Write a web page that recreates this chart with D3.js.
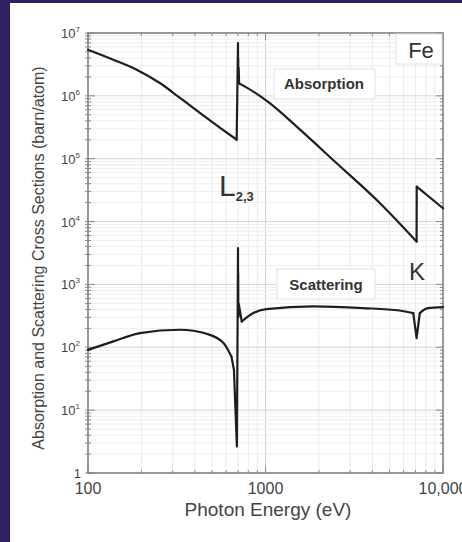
<!DOCTYPE html>
<html>
<head>
<meta charset="utf-8">
<script src="https://cdn.jsdelivr.net/npm/d3@7"></script>
<style>
  html, body { margin: 0; padding: 0; background: #fff; }
  svg { display: block; }
</style>
</head>
<body>
<div id="chart"></div>
<script>
// photon energy (eV) and cross sections (barn/atom)
var absorptionE = [100, 139, 188, 254, 330, 466, 555, 688, 700, 701, 702, 703, 706, 710, 718, 854, 1061, 1499, 2518, 4416, 7100, 7112, 10000];
var absorptionV = [5.43e6, 3.76e6, 2.61e6, 1.60e6, 9.27e5, 4.45e5, 3.1e5, 2.01e5, 6.9e6, 2.3e6, 4.0e6, 1.8e6, 2.8e6, 1.6e6, 1.55e6, 1.17e6, 7.6e5, 3.24e5, 8.47e4, 1.96e4, 4.81e3, 3.6e4, 1.63e4];

var scatteringE = [100, 139, 196, 330, 466, 580, 643, 664, 690, 700, 701, 702, 703, 706, 735, 854, 1010, 1866, 3541, 5700, 6800, 7100, 7400, 8200, 10000];
var scatteringV = [91, 124, 168, 190, 164, 117, 71, 44, 2.65, 3800, 600, 1500, 300, 500, 257, 350, 405, 446, 420, 385, 350, 140, 350, 420, 435];

var xTicks = [100, 1000, 10000];
var xTickLabels = ["100", "1000", "10,000"];
var yTickExp = [0, 1, 2, 3, 4, 5, 6, 7];

function init() {
    var w = 462, h = 542;
    var pLeft = 88, pRight = 443, pTop = 33, pBottom = 473;
    var font = "'Liberation Sans', Arial, sans-serif";

    var svg = d3.select("#chart").append("svg")
                .attr("width", w)
                .attr("height", h);

    svg.append("rect").attr("width", w).attr("height", h).attr("fill", "#fff");
    // purple frame of the slide
    svg.append("rect").attr("x", 0).attr("y", 0).attr("width", w).attr("height", 3).attr("fill", "#2f1f63");
    svg.append("rect").attr("x", 0).attr("y", 0).attr("width", 10).attr("height", h).attr("fill", "#2f1f63");

    var x = d3.scaleLog().domain([100, 10000]).range([pLeft, pRight]);
    var y = d3.scaleLog().domain([1, 1e7]).range([pBottom, pTop]);

    // minor values
    var xMinor = [];
    [100, 1000].forEach(function(d) { for (var k = 1; k < 10; k++) xMinor.push(k * d); });
    xMinor.push(10000);
    var yMinor = [];
    for (var e = 0; e < 7; e++) { for (var k = 1; k < 10; k++) yMinor.push(k * Math.pow(10, e)); }
    yMinor.push(1e7);
    function isMajorY(d) { return Math.abs(Math.log10(d) - Math.round(Math.log10(d))) < 1e-9; }

    var grid = svg.append("g");
    grid.selectAll(".gx").data(xMinor).enter().append("line")
        .attr("x1", function(d) { return x(d); }).attr("x2", function(d) { return x(d); })
        .attr("y1", pTop).attr("y2", pBottom)
        .attr("stroke", function(d) { return xTicks.indexOf(d) >= 0 ? "#cfcfcf" : "#ebebeb"; })
        .attr("stroke-width", 1);
    grid.selectAll(".gy").data(yMinor).enter().append("line")
        .attr("y1", function(d) { return y(d); }).attr("y2", function(d) { return y(d); })
        .attr("x1", pLeft).attr("x2", pRight)
        .attr("stroke", function(d) { return isMajorY(d) ? "#d6d6d6" : "#ededed"; })
        .attr("stroke-width", 1);

    // ticks on all four sides, pointing inward
    var ticks = svg.append("g").attr("stroke", "#8a8a8a").attr("stroke-width", 1);
    xMinor.forEach(function(d) {
        var len = xTicks.indexOf(d) >= 0 ? 7 : 3;
        ticks.append("line").attr("x1", x(d)).attr("x2", x(d)).attr("y1", pBottom).attr("y2", pBottom - len);
        ticks.append("line").attr("x1", x(d)).attr("x2", x(d)).attr("y1", pTop).attr("y2", pTop + len);
    });
    yMinor.forEach(function(d) {
        var len = isMajorY(d) ? 7 : 3;
        ticks.append("line").attr("y1", y(d)).attr("y2", y(d)).attr("x1", pLeft - 3).attr("x2", pLeft + len);
        ticks.append("line").attr("y1", y(d)).attr("y2", y(d)).attr("x1", pRight).attr("x2", pRight - len);
    });

    svg.append("rect")
       .attr("x", pLeft).attr("y", pTop)
       .attr("width", pRight - pLeft).attr("height", pBottom - pTop)
       .attr("fill", "none").attr("stroke", "#808080").attr("stroke-width", 1.5);

    // label boxes
    function box(x0, y0, bw, bh) {
        svg.append("rect").attr("x", x0).attr("y", y0).attr("width", bw).attr("height", bh)
           .attr("fill", "#fff").attr("stroke", "#e2e2e2").attr("stroke-width", 1);
    }
    box(274, 69, 101, 30);
    box(277, 269, 98, 30);
    box(396, 34, 46, 30);

    // curves: smooth between edges, straight across the edges
    var smooth = d3.line()
                   .curve(d3.curveMonotoneX)
                   .x(function(d) { return x(d[0]); })
                   .y(function(d) { return y(d[1]); });
    var straight = d3.line()
                     .x(function(d) { return x(d[0]); })
                     .y(function(d) { return y(d[1]); });

    function drawCurve(es, vs) {
        var pts = es.map(function(e, i) { return [e, vs[i]]; });
        var runs = [];
        for (var i = 0; i < pts.length - 1; i++) {
            var edge = pts[i + 1][0] / pts[i][0] < 1.05;
            var last = runs[runs.length - 1];
            if (last && last.edge === edge) last.pts.push(pts[i + 1]);
            else runs.push({ edge: edge, pts: [pts[i], pts[i + 1]] });
        }
        runs.forEach(function(r) {
            svg.append("path")
               .datum(r.pts)
               .attr("d", r.edge ? straight : smooth)
               .attr("fill", "none").attr("stroke", "#1e1e1e").attr("stroke-width", 2.2)
               .attr("stroke-linejoin", "round").attr("stroke-linecap", "round");
        });
    }
    drawCurve(absorptionE, absorptionV);
    drawCurve(scatteringE, scatteringV);

    // x tick labels
    svg.selectAll(".xl").data(xTicks).enter().append("text")
       .attr("x", function(d) { return x(d); })
       .attr("y", 494)
       .attr("text-anchor", "middle")
       .attr("font-family", font).attr("font-size", 16)
       .attr("fill", "#444")
       .text(function(d, i) { return xTickLabels[i]; });

    // y tick labels
    var yl = svg.selectAll(".yl").data(yTickExp).enter().append("text")
       .attr("x", function(d) { return d === 0 ? 81 : 61; })
       .attr("y", function(d) { return y(Math.pow(10, d)) + 5; })
       .attr("text-anchor", function(d) { return d === 0 ? "end" : "start"; })
       .attr("font-family", font).attr("font-size", 13)
       .attr("fill", "#444");
    yl.append("tspan").text(function(d) { return d === 0 ? "1" : "10"; });
    yl.filter(function(d) { return d > 0; })
      .append("tspan").attr("dy", -6).attr("font-size", 8).text(function(d) { return d; });

    // axis titles
    svg.append("text")
       .attr("x", 268).attr("y", 516)
       .attr("text-anchor", "middle")
       .attr("font-family", font).attr("font-size", 19)
       .attr("fill", "#444")
       .text("Photon Energy (eV)");

    svg.append("text")
       .attr("transform", "translate(44,258) rotate(-90)")
       .attr("text-anchor", "middle")
       .attr("font-family", font).attr("font-size", 16)
       .attr("fill", "#444")
       .text("Absorption and Scattering Cross Sections (barn/atom)");

    // annotations
    svg.append("text").attr("x", 324).attr("y", 89).attr("text-anchor", "middle")
       .attr("font-family", font).attr("font-size", 15).attr("font-weight", "bold").attr("fill", "#333")
       .text("Absorption");
    svg.append("text").attr("x", 326).attr("y", 290).attr("text-anchor", "middle")
       .attr("font-family", font).attr("font-size", 15).attr("font-weight", "bold").attr("fill", "#333")
       .text("Scattering");
    svg.append("text").attr("x", 421).attr("y", 58).attr("text-anchor", "middle")
       .attr("font-family", font).attr("font-size", 22).attr("fill", "#333")
       .text("Fe");
    svg.append("text").attr("x", 417).attr("y", 280).attr("text-anchor", "middle")
       .attr("font-family", font).attr("font-size", 24).attr("fill", "#333")
       .text("K");
    var lab = svg.append("text").attr("x", 219).attr("y", 196)
       .attr("font-family", font).attr("font-size", 30).attr("fill", "#333");
    lab.append("tspan").text("L");
    lab.append("tspan").attr("dy", 5).attr("font-size", 13).attr("font-weight", "bold").text("2,3");
}

init();
</script>
</body>
</html>
